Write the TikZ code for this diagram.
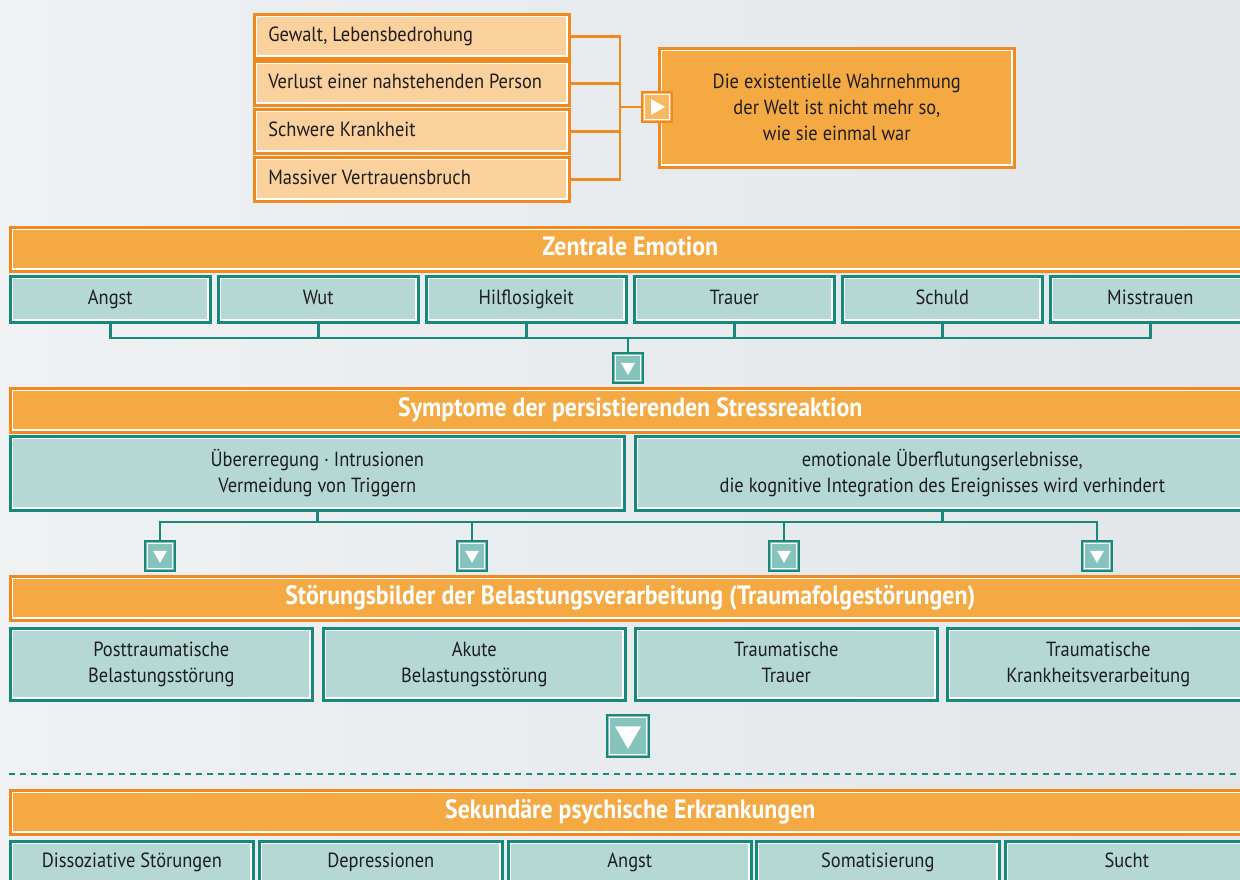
\documentclass[tikz,border=0pt]{standalone}
\usepackage{fontspec}
\setmainfont{PT Sans}[FakeStretch=0.9]
\usetikzlibrary{positioning, calc}

\definecolor{bgcol}{RGB}{226,230,233}
\definecolor{orangeline}{RGB}{240,138,30}
\definecolor{orangefill}{RGB}{245,169,66}
\definecolor{srcfill}{RGB}{250,208,156}
\definecolor{playfill}{RGB}{247,184,100}
\definecolor{tealline}{RGB}{22,136,124}
\definecolor{tealfill}{RGB}{181,216,212}
\definecolor{markfill}{RGB}{134,195,188}
\definecolor{txtcol}{RGB}{30,30,30}

\tikzset{
    inset/.style={path picture={
        \draw[white, line width=1.2pt]
            ([shift={(2.3pt,2.3pt)}]path picture bounding box.south west) rectangle
            ([shift={(-2.3pt,-2.3pt)}]path picture bounding box.north east);}},
    oneline/.style={text height=15pt, text depth=5pt},
    twoline/.style={text depth=5pt},
    src/.style={draw=orangeline, line width=2.6pt, fill=srcfill, inset,
        anchor=north west, minimum height=44pt, text width=287pt,
        inner xsep=14pt, align=flush left, text=txtcol, oneline,
        font=\fontsize{20.5}{24}\selectfont},
    band/.style={draw=orangeline, line width=2.6pt, fill=orangefill, inset,
        anchor=north west, minimum width=1240pt, minimum height=44pt,
        inner sep=0pt, text height=18pt, text depth=5pt,
        text=white, font=\fontsize{26.5}{30}\selectfont\bfseries},
    leaf/.style={draw=tealline, line width=2.6pt, fill=tealfill, inset,
        anchor=north west, align=center, text=txtcol, inner sep=0pt,
        font=\fontsize{20.5}{26}\selectfont},
    tealline/.style={draw=tealline, line width=2.6pt},
    orangewire/.style={draw=orangeline, line width=2.6pt},
    downmark/.style={draw=tealline, line width=2.6pt, fill=markfill,
        minimum size=2*#1+16pt, inner sep=0pt,
        path picture={
            \draw[white, line width=1.2pt]
                ([shift={(2.3pt,2.3pt)}]path picture bounding box.south west) rectangle
                ([shift={(-2.3pt,-2.3pt)}]path picture bounding box.north east);
            \fill[white]
                ([shift={(-#1,0.75*#1)}]path picture bounding box.center) --
                ([shift={(#1,0.75*#1)}]path picture bounding box.center) --
                ([shift={(0pt,-#1)}]path picture bounding box.center) -- cycle;}},
}

\begin{document}
\begin{tikzpicture}[x=1pt, y=-1pt]
\useasboundingbox (0,0) rectangle (1240,880);
\clip (0,0) rectangle (1240,880);
\shade[left color=bgcol!55!white, right color=bgcol] (0,0) rectangle (1240,880);

% causes
\node[src] (g1) at (253,13) {Gewalt, Lebensbedrohung};
\node[src] (g2) at (253,60) {Verlust einer nahstehenden Person};
\node[src] (g3) at (253,108) {Schwere Krankheit};
\node[src] (g4) at (253,156) {Massiver Vertrauensbruch};

\node[draw=orangeline, line width=2.6pt, fill=orangefill, inset,
        anchor=north west,
        minimum width=355pt,
        minimum height=119pt,
        align=center, text=txtcol,
        font=\fontsize{20.5}{26}\selectfont] (world) at (658,47)
    {Die existentielle Wahrnehmung\\der Welt ist nicht mehr so,\\wie sie einmal war};

\node[draw=orangeline, line width=2.6pt, fill=playfill,
        minimum size=30pt, inner sep=0pt,
        path picture={
            \draw[white, line width=1.2pt]
                ([shift={(2.3pt,2.3pt)}]path picture bounding box.south west) rectangle
                ([shift={(-2.3pt,-2.3pt)}]path picture bounding box.north east);
            \fill[white]
                ([shift={(-6pt,8pt)}]path picture bounding box.center) --
                ([shift={(8pt,0pt)}]path picture bounding box.center) --
                ([shift={(-6pt,-8pt)}]path picture bounding box.center) -- cycle;}]
    (play) at (657,107) {};

\coordinate (jn) at (620,107);

\draw[orangewire] (g1.east) -- (g1.east -| jn) -- (g4.east -| jn) -- (g4.east);
\draw[orangewire] (g2.east) -- (g2.east -| jn);
\draw[orangewire] (g3.east) -- (g3.east -| jn);
\draw[orangewire] (jn) -- (play.west);

% Zentrale Emotion
\node[band] (emo) at (9,226) {Zentrale Emotion};

\node[leaf, oneline, minimum width=200pt, minimum height=46pt] (e1) at (9,275) {Angst};
\node[leaf, oneline, minimum width=200pt, minimum height=46pt] (e2) at (217,275) {Wut};
\node[leaf, oneline, minimum width=200pt, minimum height=46pt] (e3) at (425,275) {Hilflosigkeit};
\node[leaf, oneline, minimum width=200pt, minimum height=46pt] (e4) at (633,275) {Trauer};
\node[leaf, oneline, minimum width=200pt, minimum height=46pt] (e5) at (841,275) {Schuld};
\node[leaf, oneline, minimum width=200pt, minimum height=46pt] (e6) at (1049,275) {Misstrauen};

\coordinate (bus1) at (628,338);
\node[downmark=7pt] (m1) at (628,368) {};

\draw[tealline] (e1.south) -- (e1.south |- bus1) -- (e6.south |- bus1) -- (e6.south);
\draw[tealline] (e2.south) -- (e2.south |- bus1);
\draw[tealline] (e3.south) -- (e3.south |- bus1);
\draw[tealline] (e4.south) -- (e4.south |- bus1);
\draw[tealline] (e5.south) -- (e5.south |- bus1);
\draw[tealline] (bus1) -- (m1.north);

% Stressreaktion
\node[band] (stress) at (9,387) {Symptome der persistierenden Stressreaktion};

\node[leaf, twoline, minimum width=614pt, minimum height=74pt] (s1) at (9,435)
    {Übererregung · Intrusionen\\Vermeidung von Triggern};
\node[leaf, twoline, minimum width=614pt, minimum height=74pt] (s2) at (634,435)
    {emotionale Überflutungserlebnisse,\\die kognitive Integration des Ereignisses wird verhindert};

\coordinate (bus2) at (628,522);
\node[downmark=7pt] (m2) at (160,556) {};
\node[downmark=7pt] (m3) at (472,556) {};
\node[downmark=7pt] (m4) at (784,556) {};
\node[downmark=7pt] (m5) at (1097,556) {};

\draw[tealline] (s1.south) -- (s1.south |- bus2);
\draw[tealline] (s2.south) -- (s2.south |- bus2);
\draw[tealline] (m2.north) -- (m2.north |- bus2) -- (m5.north |- bus2) -- (m5.north);
\draw[tealline] (m3.north) -- (m3.north |- bus2);
\draw[tealline] (m4.north) -- (m4.north |- bus2);

% Traumafolgestoerungen
\node[band] (trauma) at (9,575) {Störungsbilder der Belastungsverarbeitung (Traumafolgestörungen)};

\node[leaf, twoline, minimum width=302pt, minimum height=72pt] (t1) at (9,627)
    {Posttraumatische\\Belastungsstörung};
\node[leaf, twoline, minimum width=302pt, minimum height=72pt] (t2) at (322,627)
    {Akute\\Belastungsstörung};
\node[leaf, twoline, minimum width=302pt, minimum height=72pt] (t3) at (634,627)
    {Traumatische\\Trauer};
\node[leaf, twoline, minimum width=302pt, minimum height=72pt] (t4) at (946,627)
    {Traumatische\\Krankheitsverarbeitung};

\node[downmark=13pt] (m6) at (628,736) {};

\draw[tealline, line width=2.2pt, dash pattern=on 6pt off 5pt] (9,774) -- (1240,774);

% Sekundaere Erkrankungen
\node[band] (sek) at (9,789) {Sekundäre psychische Erkrankungen};

\node[leaf, oneline, minimum width=243pt, minimum height=42pt] (k1) at (9,840) {Dissoziative Störungen};
\node[leaf, oneline, minimum width=243pt, minimum height=42pt] (k2) at (258,840) {Depressionen};
\node[leaf, oneline, minimum width=243pt, minimum height=42pt] (k3) at (507,840) {Angst};
\node[leaf, oneline, minimum width=243pt, minimum height=42pt] (k4) at (755,840) {Somatisierung};
\node[leaf, oneline, minimum width=243pt, minimum height=42pt] (k5) at (1004,840) {Sucht};

\end{tikzpicture}
\end{document}
